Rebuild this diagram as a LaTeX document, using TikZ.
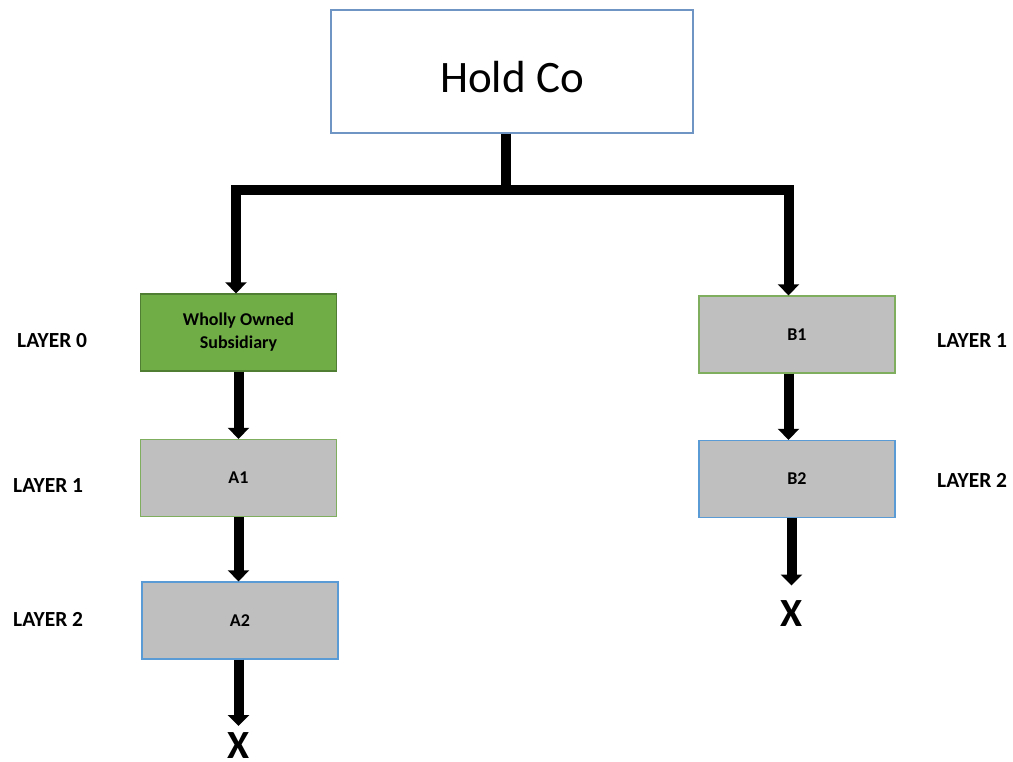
\documentclass[tikz,border=0pt]{standalone}
\usepackage{fontspec}
\setmainfont{Carlito}
\usetikzlibrary{arrows.meta,calc}
\definecolor{gfill}{HTML}{70AD47}
\definecolor{gdark}{HTML}{507E32}
\definecolor{gline}{HTML}{7FAE5E}
\definecolor{gray1}{HTML}{BFBFBF}
\definecolor{bline}{HTML}{5B9BD5}
\definecolor{hline}{HTML}{6F95C4}
\tikzset{
  box/.style={draw, line width=1.3pt, minimum width=196pt, minimum height=77pt, inner sep=0pt, font=\fontsize{18}{20}\selectfont\bfseries, align=center},
  greenbox/.style={box, fill=gfill, draw=gdark},
  graygreen/.style={box, fill=gray1, draw=gline},
  grayblue/.style={box, fill=gray1, draw=bline},
  holdbox/.style={draw=hline, line width=1.1pt, fill=white, minimum width=362pt, minimum height=123pt, inner sep=0pt, font=\fontsize{45}{50}\selectfont},
  layer/.style={anchor=west, inner sep=0pt, font=\fontsize{21.5}{24}\selectfont\bfseries},
  xmark/.style={inner sep=0pt, outer sep=0pt, font=\fontsize{40}{42}\selectfont\bfseries},
  conn/.style={line width=10pt, line join=miter, draw=black},
  arr/.style={conn, -{Triangle[width=21pt,length=11pt]}},
}
\begin{document}
\begin{tikzpicture}[x=1pt,y=-1pt]
\useasboundingbox (0,0) rectangle (1013,762);
\node[holdbox, text height=50pt, text depth=8pt] (hold) at (512,71.5) {Hold Co};
\node[greenbox, font=\fontsize{18}{23}\selectfont\bfseries] (ws) at (238.5,332.5) {Wholly Owned\\Subsidiary};
\node[graygreen] (a1) at (238.5,478) {A1};
\node[grayblue] (a2) at (240,620.5) {A2};
\node[graygreen] (b1) at (797,334.5) {B1};
\node[grayblue] (b2) at (797,479) {B2};
\node[xmark] (xa) at (238.5,746) {X};
\node[xmark] (xb) at (791.5,613.5) {X};
\node[layer] (l0) at (17,341) {LAYER 0};
\node[layer] (l1a) at (13,486) {LAYER 1};
\node[layer] (l2a) at (13,619) {LAYER 2};
\node[layer] (l1b) at (937,341) {LAYER 1};
\node[layer] (l2b) at (937,480) {LAYER 2};
\coordinate (lcorner) at (236,190.5);
\coordinate (rcorner) at (788.5,190.5);
\draw[arr] (hold.south -| 506,0) |- (lcorner) -- (lcorner |- ws.north);
\draw[arr] (hold.south -| 506,0) |- (rcorner) -- (rcorner |- b1.north);
\draw[arr] (ws.south) -- (a1.north);
\draw[arr] (a1.south) -- (a1.south |- a2.north);
\draw[arr] (a1.south |- a2.south) -- ($(xa.north)+(0,-7)$);
\draw[arr] ($(b1.south)+(-8.5,0)$) -- ($(b2.north)+(-8.5,0)$);
\draw[arr] ($(b2.south)+(-5.5,0)$) -- ($(xb.north)+(0,-15)$);
\end{tikzpicture}
\end{document}
